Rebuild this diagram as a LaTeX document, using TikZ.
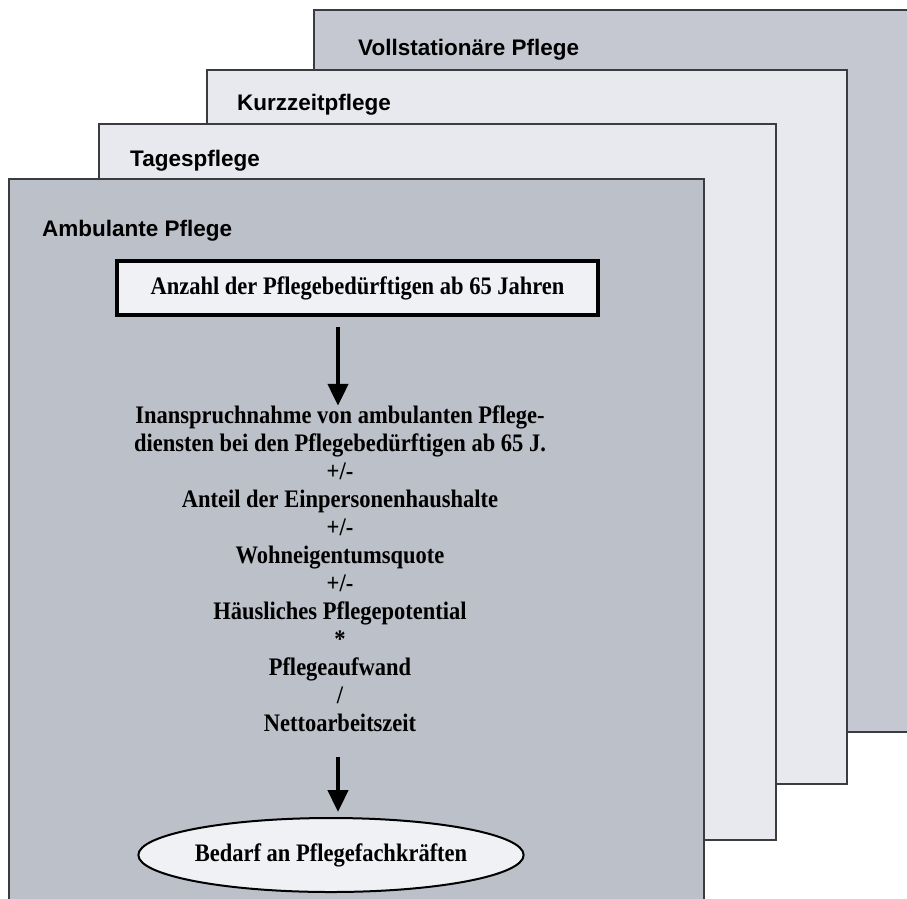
\documentclass[tikz,border=0pt]{standalone}
\usepackage{fontspec}
\usepackage{graphicx}
\setmainfont{Liberation Serif}
\setsansfont{Liberation Sans}
\usetikzlibrary{shapes.geometric,arrows.meta,calc}
\definecolor{cardgray}{HTML}{BCC0C9}
\definecolor{backgray}{HTML}{C5C8D0}
\definecolor{cardlight}{HTML}{E7E9EF}
\definecolor{boxfill}{HTML}{EFF1F5}
\definecolor{edge}{HTML}{3A3C40}
\newcommand{\tall}[1]{\scalebox{1}[1.12]{#1}}
\begin{document}
\begin{tikzpicture}[x=1pt,y=-1pt,
  card/.style={draw=edge,line width=1.2pt},
  cardlabel/.style={anchor=west,inner sep=0pt,font=\sffamily\bfseries\fontsize{22.5}{27}\selectfont},
  mainbox/.style={draw=black,line width=4.5pt,fill=boxfill,minimum width=481pt,minimum height=54pt,inner sep=0pt,
     font=\bfseries\fontsize{22.5}{27}\selectfont},
  formula/.style={inner sep=0pt,font=\bfseries\fontsize{22.5}{25}\selectfont},
  result/.style={ellipse,draw=black,line width=2pt,fill=boxfill,minimum width=354pt,minimum height=74pt,inner sep=0pt,
     font=\bfseries\fontsize{22.5}{27}\selectfont},
  arr/.style={line width=4.5pt,-{Triangle[length=22pt,width=20pt]}}]
\useasboundingbox (0,0) rectangle (907,898);
\clip (0,0) rectangle (907,898);
\fill[white] (0,0) rectangle (907,898);
% stacked cards
\filldraw[card,fill=backgray] (314,10) rectangle (930,732);
\filldraw[card,fill=cardlight] (207,70) rectangle (847,784);
\filldraw[card,fill=cardlight] (99,124) rectangle (776,840);
\filldraw[card,fill=cardgray] (9,179) rectangle (704,930);
\node[cardlabel] (lvoll) at (358,50) {Vollstationäre Pflege};
\node[cardlabel] (lkurz) at (237,105) {Kurzzeitpflege};
\node[cardlabel] (ltage) at (130,161) {Tagespflege};
\node[cardlabel] (lamb) at (42,231) {Ambulante Pflege};
% flow
\node[mainbox] (anz) at (357.5,288) {\tall{Anzahl der Pflegebedürftigen ab 65 Jahren}};
\node[formula] (form) at (340,572) {\tall{\begin{tabular}{@{}c@{}}Inanspruchnahme von ambulanten Pflege-\\diensten bei den Pflegebedürftigen ab 65 J.\\+/-\\Anteil der Einpersonenhaushalte\\+/-\\Wohneigentumsquote\\+/-\\Häusliches Pflegepotential\\{*}\\Pflegeaufwand\\/\\Nettoarbeitszeit\end{tabular}}};
\node[result] (bed) at (331,855) {\tall{Bedarf an Pflegefachkräften}};
\coordinate (a1) at ([xshift=-2pt]form.north |- anz.south);
\draw[arr] ([yshift=-10pt]a1) -- ([xshift=-2pt,yshift=-2pt]form.north);
\draw[arr] ([xshift=-2pt,yshift=-17pt]form.south) -- ([xshift=-2pt,yshift=5pt]form.south |- bed.north);
\end{tikzpicture}
\end{document}
